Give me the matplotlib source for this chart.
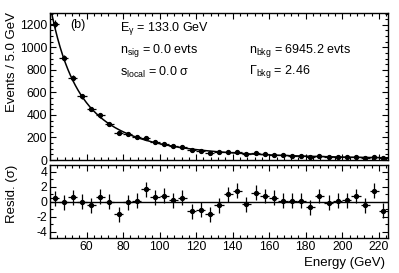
import numpy as np
import matplotlib
matplotlib.use('Agg')
import matplotlib.pyplot as plt
from matplotlib.ticker import MultipleLocator, FuncFormatter

# bin centres (5 GeV bins, 40-225 GeV)
energy = [42.5, 47.5, 52.5, 57.5, 62.5, 67.5, 72.5, 77.5, 82.5, 87.5,
          92.5, 97.5, 102.5, 107.5, 112.5, 117.5, 122.5, 127.5, 132.5, 137.5,
          142.5, 147.5, 152.5, 157.5, 162.5, 167.5, 172.5, 177.5, 182.5, 187.5,
          192.5, 197.5, 202.5, 207.5, 212.5, 217.5, 222.5]
counts = [1204, 905, 726, 566, 452, 396, 321, 244, 232, 204,
          198, 162, 146, 124, 115, 86, 78, 65, 69, 74,
          72, 53, 60, 52, 47, 41, 39, 36, 29, 35,
          28, 28, 26, 28, 20, 28, 15]
resid = [0.45, -0.1, 0.6, 0.0, -0.45, 0.67, 0.0, -1.7, -0.1, 0.13,
         1.65, 0.6, 0.8, 0.2, 0.5, -1.3, -1.1, -1.65, -0.45, 0.98,
         1.43, -0.35, 1.2, 0.76, 0.54, 0.14, 0.14, 0.1, -0.75, 0.76,
         -0.12, 0.14, 0.2, 0.76, -0.5, 1.43, -1.2]
resid_err = [1.0] * len(resid)

# fit parameters printed on the plot
e_gamma = 133.0
n_sig = 0.0
n_bkg = 6945.2
gamma_bkg = 2.46
s_local = 0.0
e_lo, e_hi, bin_w = 40.0, 225.0, 5.0

plt.rcParams['font.family'] = ['Liberation Sans', 'DejaVu Sans']
plt.rcParams['mathtext.fontset'] = 'custom'
plt.rcParams['mathtext.rm'] = 'Liberation Sans'
plt.rcParams['mathtext.it'] = 'Liberation Sans:italic'
plt.rcParams['axes.unicode_minus'] = False

fig = plt.figure(figsize=(3.99, 2.73), dpi=100)
fig.patch.set_facecolor('white')

ax = fig.add_axes([0.1253, 0.4139, 0.8471, 0.5385])
rx = fig.add_axes([0.1253, 0.1282, 0.8471, 0.2674])

x = np.array(energy)
y = np.array(counts, dtype=float)

# power-law background fit
norm = n_bkg * bin_w * (1 - gamma_bkg) / (e_hi ** (1 - gamma_bkg) - e_lo ** (1 - gamma_bkg))
xf = np.linspace(e_lo, e_hi, 400)
ax.plot(xf, norm * xf ** (-gamma_bkg), color='black', lw=1.1, zorder=2)

ax.errorbar(x, y, xerr=bin_w / 2, yerr=np.sqrt(y), fmt='o', ms=2.8,
            color='black', ecolor='black', elinewidth=0.9, capsize=0, zorder=3)

rx.axhline(0, color='black', lw=1.0)
rx.errorbar(x, resid, xerr=bin_w / 2, yerr=resid_err, fmt='o', ms=2.8,
            color='black', ecolor='black', elinewidth=0.9, capsize=0, zorder=3)

for a in (ax, rx):
    a.set_xlim(e_lo, e_hi)
    a.xaxis.set_major_locator(MultipleLocator(20))
    a.xaxis.set_minor_locator(MultipleLocator(4))
    a.tick_params(which='both', direction='in', top=True, right=True,
                  labelsize=8.7, pad=2, width=0.8, colors='black')
    a.tick_params(which='major', length=4.5)
    a.tick_params(which='minor', length=2.2)
    for s in a.spines.values():
        s.set_linewidth(1.0)

ax.set_ylim(0, 1305)
ax.yaxis.set_major_locator(MultipleLocator(200))
ax.yaxis.set_minor_locator(MultipleLocator(50))
ax.tick_params(labelbottom=False)

rx.set_ylim(-4.85, 4.9)
rx.yaxis.set_major_locator(MultipleLocator(2))
rx.yaxis.set_minor_locator(MultipleLocator(1))
rx.xaxis.set_major_formatter(FuncFormatter(lambda v, p: '' if v <= e_lo else '%d' % v))

fig.text(0.030, 0.773, 'Events / 5.0 GeV', rotation=90, ha='center', va='center', fontsize=9.5)
fig.text(0.030, 0.289, 'Resid. (σ)', rotation=90, ha='center', va='center', fontsize=9.5)
fig.text(0.965, 0.037, 'Energy (GeV)', ha='right', va='center', fontsize=9.5)

fs = 9.0
fig.text(70 / 399, 1 - 25 / 273, '(b)', ha='left', va='center', fontsize=fs)
fig.text(120 / 399, 1 - 28 / 273, r'E$_{\mathregular{γ}}$ = %.1f GeV' % e_gamma,
         ha='left', va='center', fontsize=fs)
fig.text(120 / 399, 1 - 50 / 273, r'n$_{\mathregular{sig}}$ = %.1f evts' % n_sig,
         ha='left', va='center', fontsize=fs)
fig.text(120 / 399, 1 - 72 / 273, r's$_{\mathregular{local}}$ = %.1f σ' % s_local,
         ha='left', va='center', fontsize=fs)
fig.text(249 / 399, 1 - 50 / 273, r'n$_{\mathregular{bkg}}$ = %.1f evts' % n_bkg,
         ha='left', va='center', fontsize=fs)
fig.text(249 / 399, 1 - 71 / 273, r'Γ$_{\mathregular{bkg}}$ = %.2f' % gamma_bkg,
         ha='left', va='center', fontsize=fs)

fig.savefig('out.png', dpi=100, facecolor='white')
